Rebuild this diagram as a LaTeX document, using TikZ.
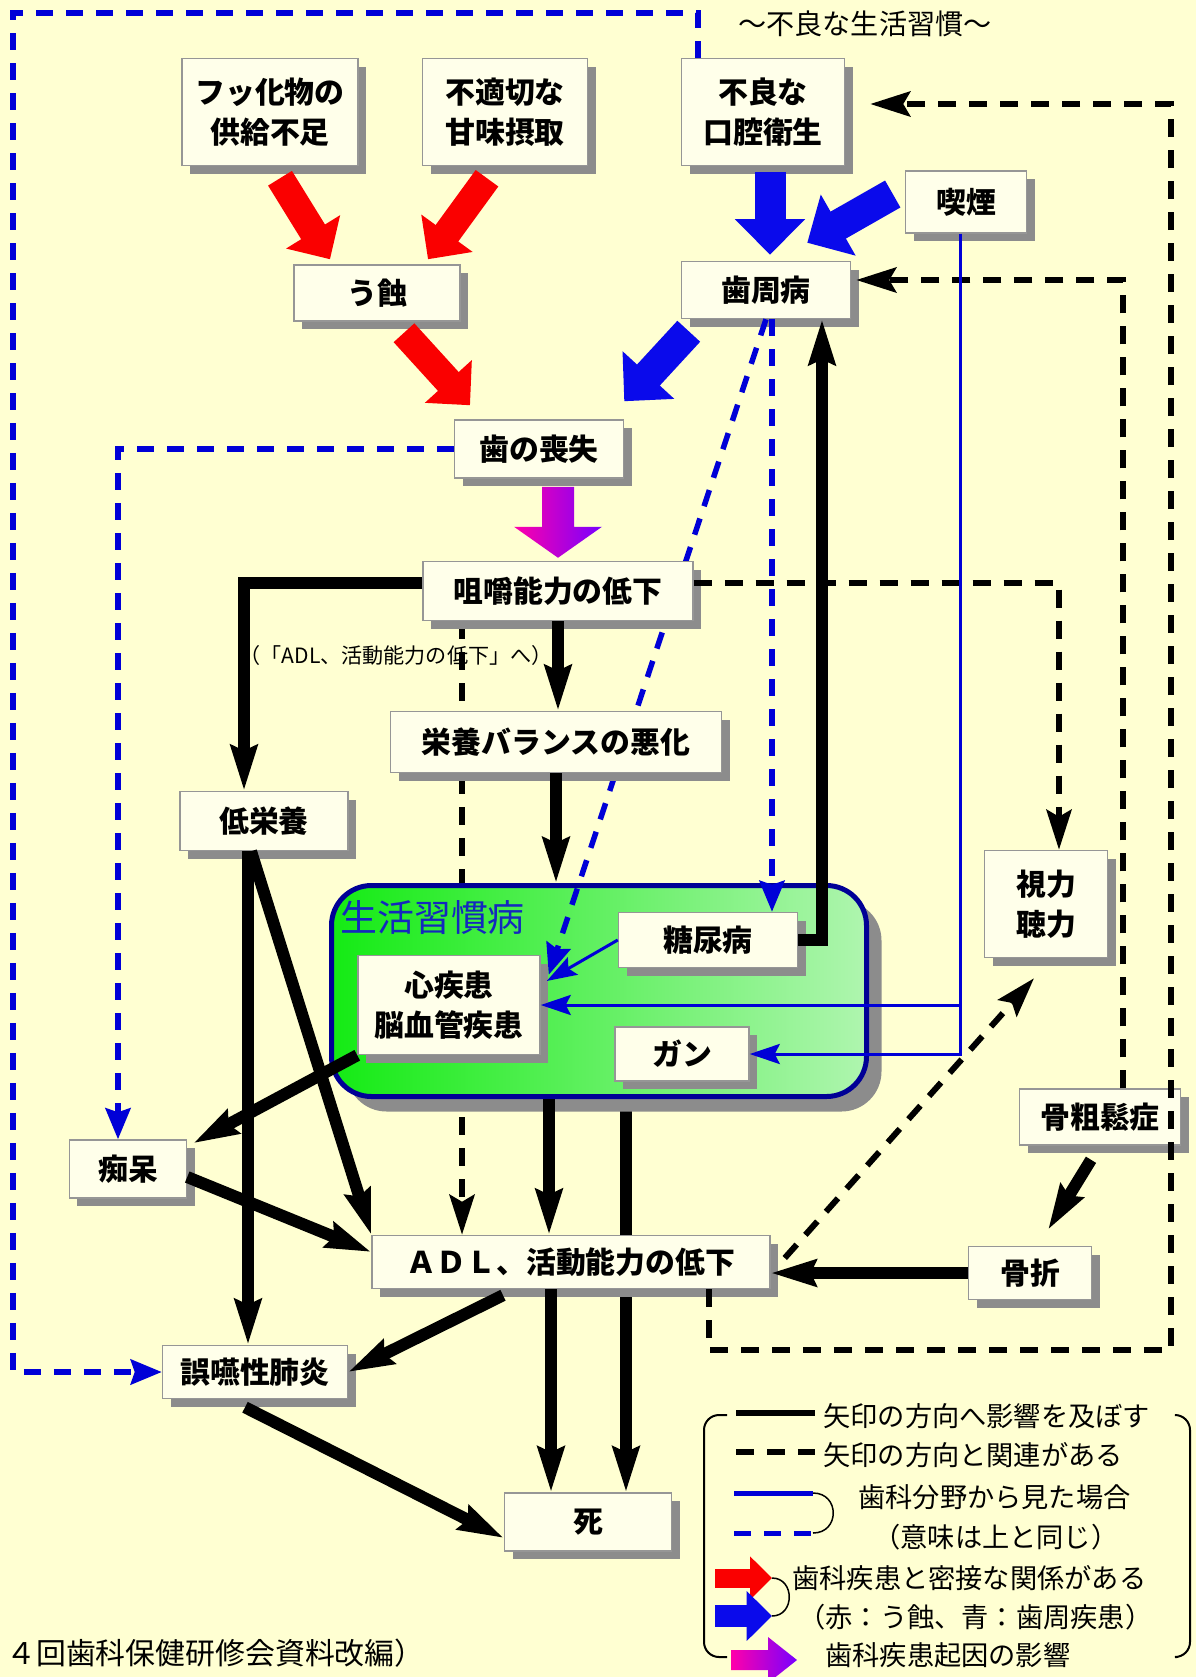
\documentclass[tikz,border=0pt]{standalone}
\usepackage{fontspec}
\setmainfont{Noto Sans CJK JP}
\usetikzlibrary{arrows.meta,calc,shadows}

\definecolor{bgyellow}{RGB}{255,255,210}
\definecolor{boxfill}{RGB}{255,255,234}
\definecolor{boxline}{RGB}{150,150,150}
\definecolor{shadowgray}{RGB}{140,140,140}
\definecolor{fatred}{RGB}{250,0,0}
\definecolor{fatblue}{RGB}{10,10,235}
\definecolor{lineblue}{RGB}{0,0,215}
\definecolor{navy}{RGB}{0,0,150}
\definecolor{lsdleft}{RGB}{20,235,20}
\definecolor{lsdright}{RGB}{175,245,175}
\definecolor{titleblue}{RGB}{20,40,190}
\definecolor{magpink}{RGB}{255,0,170}
\definecolor{magviolet}{RGB}{120,0,255}

\pgfdeclarelayer{bg}
\pgfdeclarelayer{behind}
\pgfsetlayers{bg,behind,main}

\begin{document}
\begin{tikzpicture}[x=0.02cm,y=-0.02cm,
  box/.style={draw=boxline,line width=0.03cm,fill=boxfill,inner sep=0pt,align=center,
    font=\bfseries\fontsize{17}{23}\selectfont,
    drop shadow={shadow xshift=0.16cm,shadow yshift=-0.16cm,fill=shadowgray,opacity=1}},
  sz/.style 2 args={minimum width=#1*0.02cm,minimum height=#2*0.02cm},
  lsdbox/.style={draw=navy,line width=0.1cm,rounded corners=0.8cm,left color=lsdleft,right color=lsdright,
    drop shadow={shadow xshift=0.3cm,shadow yshift=-0.3cm,fill=shadowgray,opacity=1}},
  lsdtitle/.style={anchor=west,inner sep=0pt,text=titleblue,font=\fontsize{21}{24}\selectfont},
  solidarr/.style={draw=black,line width=0.24cm,-{Stealth[length=0.9cm,width=0.52cm,inset=0.1cm]}},
  dasharr/.style={draw=black,line width=0.12cm,dash pattern=on 0.36cm off 0.26cm,-{Stealth[length=0.8cm,width=0.5cm,inset=0.14cm]}},
  bluedash/.style={draw=lineblue,line width=0.11cm,dash pattern=on 0.34cm off 0.26cm,-{Stealth[length=0.62cm,width=0.5cm,inset=0.08cm]}},
  blueline/.style={draw=lineblue,line width=0.06cm,-{Stealth[length=0.6cm,width=0.4cm,inset=0.1cm]}},
  fatarr/.style={line width=#1,-{Triangle[length=0pt 1.15,width=0pt 2.2]}},
  redfat/.style={draw=fatred,fatarr=0.56cm},
  bluefat/.style={draw=fatblue,fatarr=0.62cm},
  legtext/.style={anchor=west,inner sep=0pt,font=\fontsize{15.5}{18}\selectfont},
]
\begin{pgfonlayer}{bg}
\fill[bgyellow] (0,0) rectangle (1196,1677);
\end{pgfonlayer}
\useasboundingbox (0,0) rectangle (1196,1677);

% causes
\node[box,sz={176}{107}] (fluor) at (270,112) {フッ化物の\\供給不足};
\node[box,sz={165}{107}] (sweet) at (505,112) {不適切な\\甘味摂取};
\node[box,sz={163}{107}] (oral) at (763,112) {不良な\\口腔衛生};
\node[font=\fontsize{16}{20}\selectfont] (habits) at (865,24) {〜不良な生活習慣〜};
\node[box,sz={121}{62}] (smoke) at (966,202) {喫煙};
\node[box,sz={166}{56}] (caries) at (377,293) {う蝕};
\node[box,sz={169}{57}] (perio) at (766,290) {歯周病};
\node[box,sz={169}{58}] (toothloss) at (539,449) {歯の喪失};
\node[box,sz={123}{107}] (vision) at (1046,904) {視力\\聴力};

% lifestyle diseases
\node[lsdbox,sz={535}{211}] (lsd) at (599,991) {};
\node[lsdtitle] (lsdname) at (340,918) {生活習慣病};
\node[box,sz={179}{55}] (diabetes) at (708,940) {糖尿病};
\node[box,sz={182}{99}] (heart) at (449,1005) {心疾患\\脳血管疾患};
\node[box,sz={134}{54}] (cancer) at (682,1054) {ガン};

\draw[bluedash] (perio.south) -- ($(heart.north east)+(8,20)$);

\node[box,sz={270}{59}] (chew) at (558,591) {咀嚼能力の低下};
\node[font=\fontsize{12}{14}\selectfont] (adlnote) at (396,655) {（「ADL、活動能力の低下」へ）};
\node[box,sz={331}{61}] (nutbal) at (556,742) {栄養バランスの悪化};
\node[box,sz={168}{59}] (lownut) at (264,821) {低栄養};
\node[box,sz={161}{56}] (osteo) at (1100,1117) {骨粗鬆症};
\node[box,sz={117}{58}] (dementia) at (128,1169) {痴呆};
\node[box,sz={398}{53}] (adl) at (571,1262) {ＡＤＬ、活動能力の低下};
\node[box,sz={123}{53}] (fracture) at (1030,1273) {骨折};
\node[box,sz={185}{53}] (aspir) at (255,1372) {誤嚥性肺炎};
\node[box,sz={167}{58}] (death) at (588,1522) {死};

% dental block arrows
\draw[redfat] ($(fluor.south)+(10,12)$) -- ($(caries.north)+(-47,-5)$);
\draw[redfat] ($(sweet.south)+(-18,12)$) -- ($(caries.north)+(51,-5)$);
\draw[redfat] ($(caries.south)+(27,11)$) -- ($(toothloss.north)+(-69,-14)$);
\draw[bluefat] ($(oral.south)+(7,6)$) -- ($(perio.north)+(4,-6)$);
\draw[bluefat] ($(smoke.west)+(-12,-8)$) -- ($(perio.north east)+(-44,-18)$);
\draw[bluefat] ($(perio.south west)+(8,12)$) -- ($(toothloss.north east)+(0,-18)$);
\begin{scope}[shift={(chew.north)}]
\shade[left color=magpink,right color=magviolet] (-16,-74) -- (16,-74) -- (16,-34) -- (44,-34) -- (0,-3) -- (-44,-34) -- (-16,-34) -- cycle;
\end{scope}

% lines passing behind boxes
\begin{pgfonlayer}{behind}
\draw[solidarr] ([xshift=0.54cm]lsd.south) -- ([xshift=0.54cm]lsd.south |- death.north);
\draw[dasharr] ([xshift=-1.92cm]chew.south) -- ([xshift=-1.92cm]chew.south |- adl.north);
\end{pgfonlayer}

% influences
\draw[solidarr] ([yshift=0.16cm]chew.west) -| ([xshift=-0.4cm]lownut.north);
\draw[solidarr] (chew.south) -- (chew.south |- nutbal.north);
\draw[solidarr] (nutbal.south) -- (nutbal.south |- lsd.north);
\draw[solidarr] (diabetes.east) -| ([xshift=1.12cm]perio.south);
\draw[solidarr] ([xshift=-0.26cm]lownut.south) -- (adl.north west);
\draw[solidarr] ([xshift=-0.32cm]lownut.south) -- ([xshift=-0.32cm]lownut.south |- aspir.north);
\draw[solidarr] (heart.south west) -- ($(dementia.north east)+(6,4)$);
\draw[solidarr] ($(dementia.east)+(0,8)$) -- ($(adl.west)+(0,-10)$);
\draw[solidarr] ([xshift=-1cm]lsd.south) -- ([xshift=-1cm]lsd.south |- adl.north);
\draw[solidarr] ([xshift=-0.4cm]adl.south) -- ([xshift=-0.4cm]adl.south |- death.north);
\draw[solidarr] ($(adl.south)+(-68,6)$) -- (aspir.east);
\draw[solidarr] ($(aspir.south)+(-10,8)$) -- ($(death.west)+(0,16)$);
\draw[solidarr] (fracture.west) -- (fracture.west -| adl.east);
\draw[solidarr] ($(osteo.south)+(-9,14)$) -- ($(fracture.north)+(18,-16)$);

% relations
\coordinate (loopcorner) at (1171,1350);
\draw[dasharr,shorten >=0.5cm] ([xshift=2.76cm]adl.south) |- (loopcorner) |- ([yshift=0.16cm]oral.east);
\draw[dasharr,shorten >=0.1cm] ([xshift=0.46cm]osteo.north) |- ([yshift=0.2cm]perio.east);
\draw[dasharr] ([yshift=0.16cm]chew.east) -| ([xshift=0.26cm]vision.north);
\draw[dasharr] ($(adl.east)+(14,-4)$) -- ($(vision.south)+(-12,20)$);

% dental viewpoint
\coordinate (frametl) at (13,13);
\draw[bluedash] ([xshift=-1.3cm]oral.north) |- (frametl) |- (aspir.west);
\draw[bluedash] (toothloss.west) -| ([xshift=-0.2cm]dementia.north);
\draw[bluedash] ([xshift=0.12cm]perio.south) -- ([xshift=0.12cm]perio.south |- diabetes.north);
\draw[blueline] ([xshift=-0.12cm]smoke.south) |- (cancer.east);
\draw[blueline] ([xshift=-0.12cm]smoke.south) |- (heart.east);
\draw[blueline] (diabetes.west) -- ($(heart.east)+(6,-24)$);

% legend
\draw[line width=0.04cm,rounded corners=0.3cm] (727,1415) -- (704,1415) -- (704,1657) -- (727,1657);
\draw[line width=0.04cm,rounded corners=0.3cm] (1177,1415) -- (1190,1415) -- (1190,1657) -- (1177,1657);
\draw[line width=0.12cm] (736,1413) -- (815,1413);
\draw[line width=0.12cm,dash pattern=on 0.36cm off 0.26cm] (736,1452) -- (815,1452);
\draw[lineblue,line width=0.1cm] (734,1493) -- (813,1493);
\draw[lineblue,line width=0.1cm,dash pattern=on 0.34cm off 0.26cm] (734,1533) -- (813,1533);
\draw[line width=0.03cm] (813,1493) .. controls (840,1493) and (840,1533) .. (813,1533);
\draw[redfat,line width=0.38cm] (715,1578) -- (772,1578);
\draw[bluefat,line width=0.44cm] (715,1616) -- (772,1616);
\draw[line width=0.03cm] (772,1578) .. controls (795,1578) and (795,1616) .. (772,1616);
\shade[left color=magpink,right color=magviolet] (731,1650) -- (768,1650) -- (768,1637) -- (797,1660) -- (768,1683) -- (768,1670) -- (731,1670) -- cycle;
\node[legtext] (leg1) at (823,1416) {矢印の方向へ影響を及ぼす};
\node[legtext] (leg2) at (823,1455) {矢印の方向と関連がある};
\node[legtext] (leg3) at (858,1497) {歯科分野から見た場合};
\node[legtext] (leg4) at (873,1537) {（意味は上と同じ）};
\node[legtext] (leg5) at (792,1578) {歯科疾患と密接な関係がある};
\node[legtext] (leg6) at (798,1617) {（赤：う蝕、青：歯周疾患）};
\node[legtext] (leg7) at (825,1655) {歯科疾患起因の影響};

\node[anchor=west,inner sep=0pt,font=\fontsize{17}{20}\selectfont] (source) at (6,1653) {４回歯科保健研修会資料改編）};
\end{tikzpicture}
\end{document}
